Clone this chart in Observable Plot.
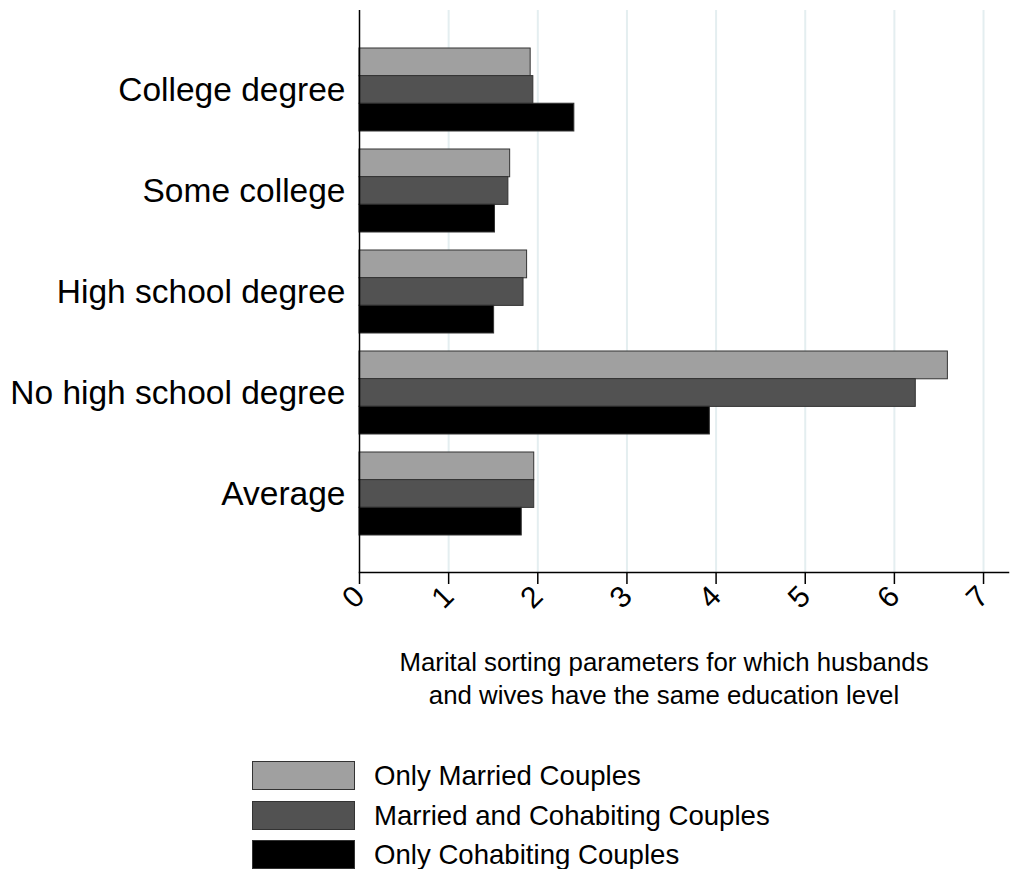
<!DOCTYPE html>
<html>
<head>
<meta charset="utf-8">
<script src="https://cdn.jsdelivr.net/npm/d3@7"></script>
<script src="https://cdn.jsdelivr.net/npm/@observablehq/plot@0.6"></script>
<style>
  html, body { margin: 0; padding: 0; background: #fff; }
  #wrap { position: relative; width: 1010px; height: 869px; font-family: "Liberation Sans", Arial, sans-serif; color: #000; }
  #chart { position: absolute; left: 0; top: 0; }
  #xtitle { position: absolute; left: 364px; top: 646px; width: 600px; text-align: center; font-size: 25.8px; line-height: 33px; }
  .lg { position: absolute; left: 252px; height: 29px; display: flex; align-items: center; }
  .sw { width: 101px; height: 27px; border: 1px solid #333; box-sizing: content-box; }
  .lt { margin-left: 19px; font-size: 27.6px; white-space: nowrap; }
</style>
</head>
<body>
<div id="wrap">
  <div id="chart"></div>
  <div id="xtitle"></div>
  <div id="legend"></div>
</div>
<script>
const categories = ["College degree", "Some college", "High school degree", "No high school degree", "Average"];
const series = ["Only Married Couples", "Married and Cohabiting Couples", "Only Cohabiting Couples"];
const onlyMarried = [1.92, 1.69, 1.88, 6.60, 1.96];
const marriedCohab = [1.95, 1.67, 1.84, 6.24, 1.96];
const onlyCohab = [2.41, 1.52, 1.51, 3.93, 1.82];
const xTicks = [0, 1, 2, 3, 4, 5, 6, 7];
const gridTicks = [1, 2, 3, 4, 5, 6, 7];
const colors = ["#a0a0a0", "#525252", "#000000"];
const xTitleLines = ["Marital sorting parameters for which husbands", "and wives have the same education level"];

const values = [onlyMarried, marriedCohab, onlyCohab];
const rows = [];
series.forEach((s, i) => categories.forEach((c, j) => rows.push({series: s, category: c, value: values[i][j]})));

const marginTop = 10, plotBottom = 572, height = 640;
const n = categories.length, pInner = 0.18, pOuter = 0.372;
const step = (plotBottom - marginTop) / (n - pInner + 2 * pOuter);
const third = step * (1 - pInner) / series.length;

const barMarks = series.map((s, i) => Plot.barX(rows.filter(d => d.series === s), {
  x: "value", y: "category", fill: "series",
  stroke: "#333", strokeWidth: 1,
  insetTop: i * third, insetBottom: (series.length - 1 - i) * third
}));

const chart = Plot.plot({
  width: 1010,
  height,
  marginTop,
  marginBottom: height - plotBottom,
  marginLeft: 359,
  marginRight: 2,
  style: {fontFamily: "Liberation Sans, Arial, sans-serif", color: "#000", background: "#fff"},
  x: {domain: [0, 7.28]},
  y: {domain: categories, paddingInner: pInner, paddingOuter: pOuter, align: 0.5},
  color: {domain: series, range: colors},
  marks: [
    Plot.ruleX(gridTicks, {stroke: "#e4eef0", strokeWidth: 2}),
    ...barMarks,
    Plot.ruleX([0], {stroke: "#000", strokeWidth: 1.5}),
    Plot.frame({anchor: "bottom", stroke: "#000", strokeWidth: 1.5}),
    Plot.axisX(xTicks, {tickSize: 12, tickRotate: -45, tickPadding: 7, fontSize: 30, strokeWidth: 1.5, label: null}),
    Plot.axisY({tickSize: 0, tickPadding: 14, fontSize: 33.5, label: null})
  ]
});
document.getElementById("chart").appendChild(chart);

const xt = document.getElementById("xtitle");
xTitleLines.forEach(t => { const d = document.createElement("div"); d.textContent = t; xt.appendChild(d); });

const lg = document.getElementById("legend");
const legendTops = [761, 801, 840];
series.forEach((s, i) => {
  const row = document.createElement("div");
  row.className = "lg";
  row.style.top = legendTops[i] + "px";
  const sw = document.createElement("div");
  sw.className = "sw";
  sw.style.background = colors[i];
  const t = document.createElement("div");
  t.className = "lt";
  t.textContent = s;
  row.appendChild(sw); row.appendChild(t);
  lg.appendChild(row);
});
</script>
</body>
</html>
